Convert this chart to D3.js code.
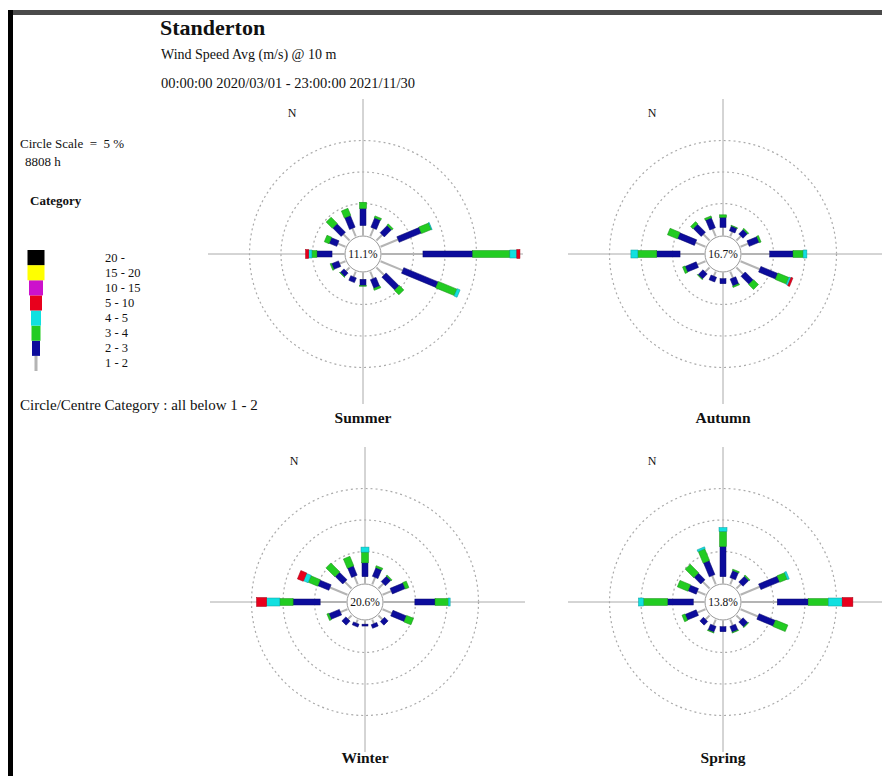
<!DOCTYPE html>
<html>
<head>
<meta charset="utf-8">
<script src="https://cdn.jsdelivr.net/npm/d3@7"></script>
<style>
  body { margin: 0; background: #fff; }
  text { font-family: "Liberation Serif", "DejaVu Serif", serif; fill: #111; white-space: pre; }
</style>
</head>
<body>
<div id="root"></div>
<script>
// 16 compass directions, clockwise from north
const directions = ["N", "NNE", "NE", "ENE", "E", "ESE", "SE", "SSE",
                    "S", "SSW", "SW", "WSW", "W", "WNW", "NW", "NNW"];

// wind speed classes (m/s), lowest first
const speedClasses = ["1 - 2", "2 - 3", "3 - 4", "4 - 5", "5 - 10", "10 - 15", "15 - 20", "20 -"];

const seasons = ["Summer", "Autumn", "Winter", "Spring"];
const calmPercent = [11.1, 16.7, 20.6, 13.8];
const ringValues = [5, 10, 15];

// frequency (%) per direction, columns = speed classes 1-2 .. 5-10 (higher classes empty)
const summerFreq = [
  [1.5, 2.7, 1.0, 0, 0], [1.4, 1.6, 0.3, 0, 0], [1.3, 1.6, 0.3, 0, 0], [3.0, 3.8, 1.7, 0.1, 0],
  [6.5, 7.9, 5.9, 1.1, 0.5], [3.8, 5.9, 3.2, 0.5, 0], [1.7, 2.9, 1.0, 0, 0], [1.2, 1.5, 0.3, 0, 0],
  [1.0, 1.0, 0.1, 0, 0], [0.9, 0.8, 0, 0, 0], [0.8, 0.8, 0.1, 0, 0], [1.0, 1.2, 0.2, 0, 0],
  [1.9, 2.4, 0.8, 0.5, 0.5], [1.3, 1.3, 0.8, 0, 0], [1.4, 1.9, 1.4, 0, 0], [1.4, 2.0, 1.2, 0, 0]
];
const autumnFreq = [
  [1.2, 1.6, 0.4, 0, 0], [0.8, 0.8, 0.1, 0, 0], [1.0, 1.0, 0.2, 0, 0], [1.3, 1.7, 0.3, 0, 0],
  [4.4, 3.7, 1.6, 0.6, 0], [3.3, 2.9, 1.9, 0.3, 0.3], [1.5, 1.8, 1.1, 0, 0], [1.1, 1.2, 0.2, 0, 0],
  [0.9, 0.8, 0, 0, 0], [0.8, 0.8, 0, 0, 0], [1.0, 1.1, 0.1, 0, 0], [1.4, 1.9, 0.4, 0, 0],
  [3.8, 3.7, 3.0, 1.1, 0], [1.7, 2.9, 1.7, 0, 0], [1.4, 1.8, 0.5, 0, 0], [1.3, 1.7, 0.3, 0, 0]
];
const winterFreq = [
  [1.0, 2.2, 1.7, 0.8, 0], [1.2, 1.5, 0.3, 0, 0], [1.1, 1.2, 0.2, 0, 0], [1.5, 2.2, 0.6, 0, 0],
  [4.9, 3.2, 2.1, 0.3, 0], [1.6, 2.3, 1.2, 0, 0], [0.9, 0.8, 0, 0, 0], [0.7, 0.6, 0, 0, 0],
  [0.5, 0.3, 0, 0, 0], [0.6, 0.5, 0, 0, 0], [0.8, 0.9, 0, 0, 0], [1.2, 1.8, 0.3, 0, 0],
  [4.1, 4.3, 2.1, 2.1, 1.6], [3.0, 1.9, 1.6, 0.8, 1.0], [1.5, 1.7, 2.0, 0, 0], [1.4, 1.6, 1.6, 0, 0]
];
const springFreq = [
  [1.0, 4.8, 2.4, 0.6, 0], [1.0, 1.2, 0.2, 0, 0], [1.0, 1.3, 0.2, 0, 0], [3.3, 3.2, 1.3, 0.3, 0],
  [5.6, 4.9, 3.2, 2.2, 1.7], [3.0, 2.8, 2.1, 0, 0], [1.0, 1.1, 0.1, 0, 0], [1.0, 1.0, 0.1, 0, 0],
  [0.9, 0.8, 0, 0, 0], [1.0, 1.0, 0.1, 0, 0], [0.9, 0.8, 0, 0, 0], [1.4, 1.9, 0.5, 0, 0],
  [1.7, 4.1, 3.8, 0.8, 0], [1.4, 1.4, 1.8, 0, 0], [1.5, 1.5, 1.9, 0, 0], [1.5, 2.4, 2.0, 0.3, 0]
];
const seasonFreq = [summerFreq, autumnFreq, winterFreq, springFreq];

// styles per speed class
const classColors = ["#b4b4b4", "#0c0c9c", "#22cc22", "#11e0e0", "#e8001c", "#cc11cc", "#ffff00", "#000000"];
const classWidths = [2, 6, 7, 8, 9, 10, 11, 11];
const legendWidths = [3, 8, 9, 10, 12, 14, 17, 17];

const outerWidth = 882;
const outerHeight = 776;

const svg = d3.select("#root")
  .append("svg")
  .attr("width", outerWidth)
  .attr("height", outerHeight);

svg.append("rect").attr("width", outerWidth).attr("height", outerHeight).attr("fill", "#fff");

// frame
svg.append("rect").attr("x", 9).attr("y", 10).attr("width", 873).attr("height", 5).attr("fill", "#4a4a4a");
svg.append("rect").attr("x", 8).attr("y", 10).attr("width", 5).attr("height", 766).attr("fill", "#000");

// header
svg.append("text").attr("x", 160).attr("y", 35)
  .style("font-size", "22px").style("font-weight", "bold").text("Standerton");
svg.append("text").attr("x", 161).attr("y", 59)
  .style("font-size", "14px").text("Wind Speed Avg (m/s) @ 10 m");
svg.append("text").attr("x", 161).attr("y", 88)
  .style("font-size", "14.5px").text("00:00:00 2020/03/01 - 23:00:00 2021/11/30");

// left legend
svg.append("text").attr("x", 20).attr("y", 148).style("font-size", "13px").text("Circle Scale  =  5 %");
svg.append("text").attr("x", 25).attr("y", 166).style("font-size", "13px").text("8808 h");
svg.append("text").attr("x", 30).attr("y", 205).style("font-size", "13px").style("font-weight", "bold").text("Category");

const legendRow = d3.scaleBand()
  .domain(d3.range(speedClasses.length).reverse())
  .range([250, 371]);

const legend = svg.append("g");
legend.selectAll("rect")
  .data(speedClasses)
  .join("rect")
  .attr("x", (d, i) => 36 - legendWidths[i] / 2)
  .attr("y", (d, i) => legendRow(i))
  .attr("width", (d, i) => legendWidths[i])
  .attr("height", legendRow.bandwidth())
  .attr("fill", (d, i) => classColors[i]);
legend.selectAll("text")
  .data(speedClasses)
  .join("text")
  .attr("x", 105)
  .attr("y", (d, i) => legendRow(i) + legendRow.bandwidth() / 2 + 4)
  .style("font-size", "12.5px")
  .text(d => d);

svg.append("text").attr("x", 20).attr("y", 410)
  .style("font-size", "15px").text("Circle/Centre Category : all below 1 - 2");

// rose panels
const centres = [[363, 254], [723, 254], [365, 602], [723, 602]];
const calmRadius = 18;
const rScale = d3.scaleLinear().domain([0, 15]).range([19, 113.5]);
const angle = d3.scaleLinear().domain([0, directions.length]).range([0, 360]);

seasons.forEach((season, s) => {
  const [cx, cy] = centres[s];
  const g = svg.append("g").attr("transform", `translate(${cx}, ${cy})`);

  g.append("line").attr("x1", -155).attr("x2", 160).attr("y1", 0).attr("y2", 0)
    .attr("stroke", "#aaa").attr("stroke-width", 1);
  g.append("line").attr("x1", 0).attr("x2", 0).attr("y1", -155).attr("y2", 150)
    .attr("stroke", "#aaa").attr("stroke-width", 1);

  g.selectAll(".ring")
    .data(ringValues)
    .join("circle")
    .attr("class", "ring")
    .attr("r", d => rScale(d))
    .attr("fill", "none")
    .attr("stroke", "#aaa")
    .attr("stroke-width", 1.2)
    .attr("stroke-dasharray", "2,3");

  const petals = g.selectAll(".petal")
    .data(seasonFreq[s])
    .join("g")
    .attr("class", "petal")
    .attr("transform", (d, i) => `rotate(${angle(i)})`);

  petals.each(function(row) {
    let acc = 0;
    const segs = row.map((v, k) => {
      const seg = { k: k, from: acc, to: acc + v };
      acc += v;
      return seg;
    }).filter(d => d.to > d.from);
    d3.select(this).selectAll("rect")
      .data(segs)
      .join("rect")
      .attr("x", d => -classWidths[d.k] / 2)
      .attr("y", d => -rScale(d.to))
      .attr("width", d => classWidths[d.k])
      .attr("height", d => rScale(d.to) - rScale(d.from))
      .attr("fill", d => classColors[d.k])
      .attr("stroke", d => d.k > 0 ? d3.color(classColors[d.k]).darker(1) : "none")
      .attr("stroke-width", 0.5);
  });

  g.append("circle").attr("r", calmRadius).attr("fill", "#fff")
    .attr("stroke", "#999").attr("stroke-width", 1);
  g.append("text").attr("y", 4).attr("text-anchor", "middle")
    .style("font-size", "11.5px").text(calmPercent[s].toFixed(1) + "%");

  g.append("text").attr("x", -71).attr("y", -137).attr("text-anchor", "middle")
    .style("font-size", "12px").text("N");
  g.append("text").attr("x", 0).attr("y", s < 2 ? 169 : 161).attr("text-anchor", "middle")
    .style("font-size", "15.5px").style("font-weight", "bold").text(season);
});
</script>
</body>
</html>
